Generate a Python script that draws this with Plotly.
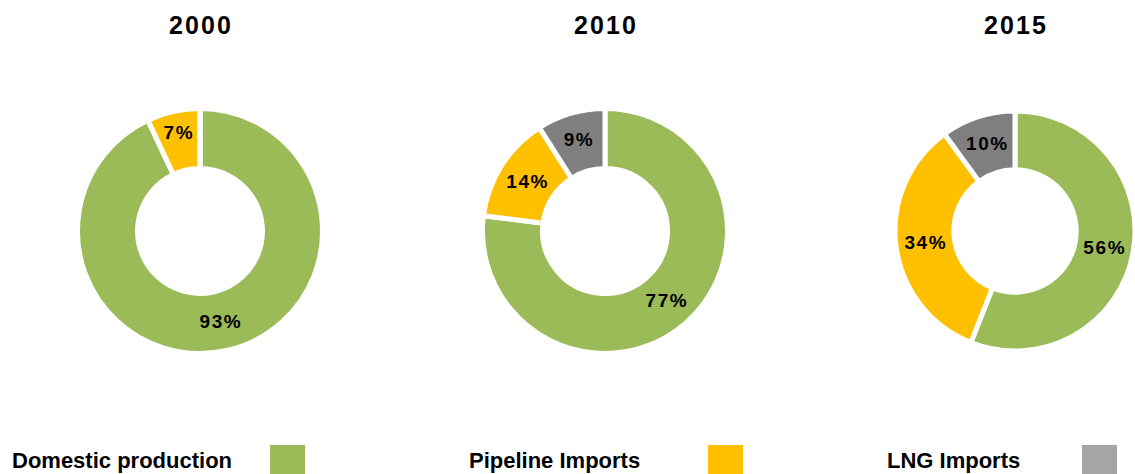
import plotly.graph_objects as go

years = ["2000", "2010", "2015"]
categories = ["Domestic production", "Pipeline Imports", "LNG Imports"]
values_2000 = [93, 7, 0]
values_2010 = [77, 14, 9]
values_2015 = [56, 34, 10]
pie_colors = ["#9BBB59", "#FFC000", "#7F7F7F"]
legend_colors = ["#9BBB59", "#FFC000", "#A5A5A5"]

W, H = 1135, 474
centers_px = [200, 605, 1015]
cy_px = 231
r_px = 122.5
HS = "\u200a"  # hair space, to mimic the wide letter spacing


def spaced(s):
    return HS.join(list(s))


fig = go.Figure()
for yr, vals, cx in zip(years, [values_2000, values_2010, values_2015], centers_px):
    r = min(r_px, W - cx, cx)
    x0 = (cx - r) / W
    x1 = (cx + r) / W
    y0 = (H - cy_px - r) / H
    y1 = (H - cy_px + r) / H
    fig.add_trace(go.Pie(
        labels=categories,
        values=vals,
        sort=False,
        direction="clockwise",
        rotation=0,
        hole=0.51,
        marker=dict(colors=pie_colors, line=dict(color="white", width=5)),
        text=[spaced("%d%%" % v) if v > 0 else "" for v in vals],
        textinfo="text",
        textposition="inside",
        insidetextorientation="horizontal",
        textfont=dict(family="Liberation Sans", size=19, color="black", weight="bold"),
        domain=dict(x=[x0, x1], y=[y0, y1]),
        showlegend=False,
        name=yr,
    ))
    fig.add_annotation(
        text="<b>%s</b>" % spaced(yr), x=cx / W, y=1 - 25 / H,
        xref="paper", yref="paper", showarrow=False,
        font=dict(family="Liberation Sans", size=25, color="black"),
        xanchor="center", yanchor="middle",
    )

legend_text_x = [10, 467, 885]
legend_sq_x = [270, 708, 1082]
for name, col, tx, sx in zip(categories, legend_colors, legend_text_x, legend_sq_x):
    fig.add_annotation(
        text="<b>%s</b>" % name, x=tx / W, y=1 - 460 / H,
        xref="paper", yref="paper", showarrow=False,
        font=dict(family="Liberation Sans", size=22, color="black"),
        xanchor="left", yanchor="middle",
    )
    fig.add_shape(type="rect", xref="paper", yref="paper",
                  x0=sx / W, x1=(sx + 35) / W, y0=0, y1=1 - 445 / H,
                  fillcolor=col, line=dict(width=0))

fig.update_layout(
    width=W, height=H,
    margin=dict(l=0, r=0, t=0, b=0),
    paper_bgcolor="white", plot_bgcolor="white",
)
fig.write_html(
    "out.html",
    config={"displayModeBar": False},
    post_script="document.body.style.margin='0';document.body.style.overflow='hidden';",
)
